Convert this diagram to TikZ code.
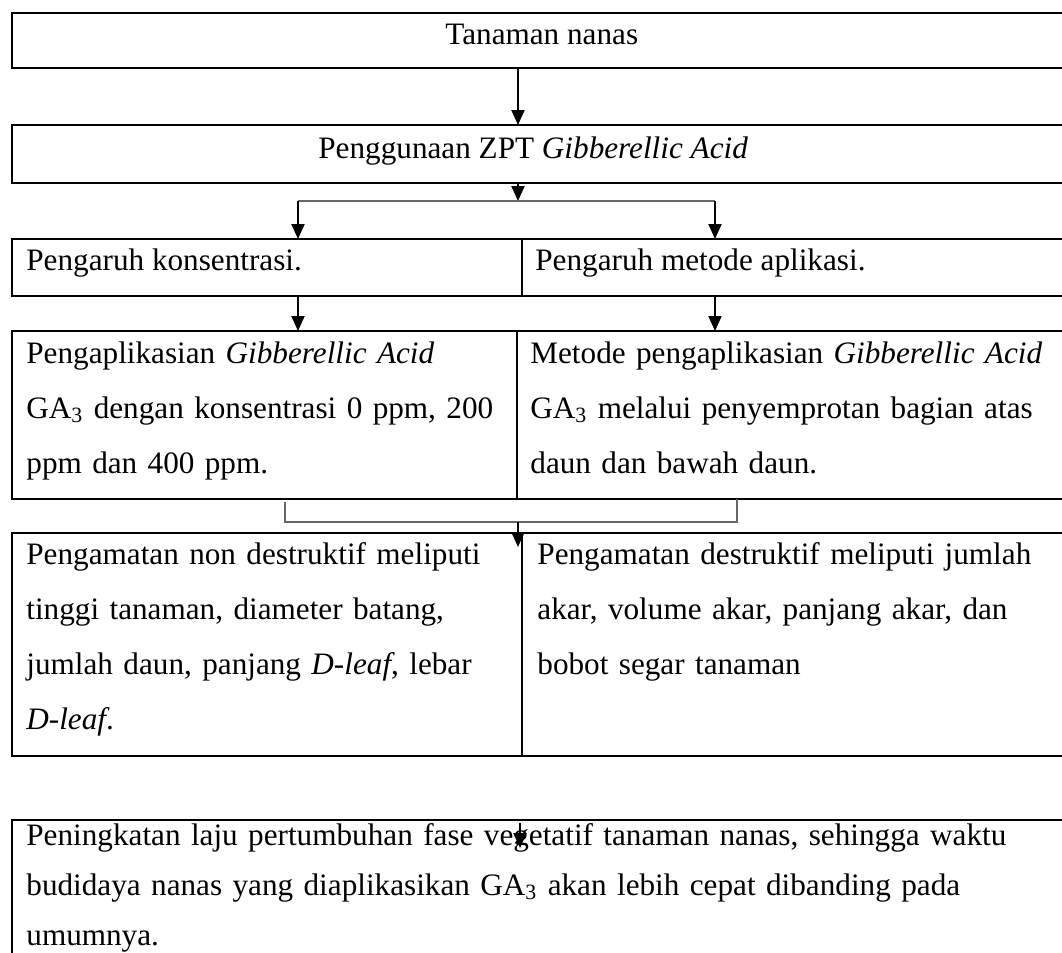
\documentclass[tikz,border=0pt]{standalone}
\usepackage{fontspec}
\setmainfont{Liberation Serif}
\usetikzlibrary{arrows.meta}

\tikzset{
    kotak/.style={draw, line width=1pt, anchor=north west, minimum width=529pt, inner sep=0pt, outer sep=0pt},
    isi/.style={anchor=base west, inner sep=0pt, align=left, font=\fontsize{15.6pt}{27.5pt}\selectfont},
    panah/.style={-{Triangle[width=6.5pt,length=7.5pt]}, line width=1pt},
    sekat/.style={line width=0.6pt},
    siku/.style={line width=0.6pt, black!60},
}

\begin{document}
\begin{tikzpicture}[x=0.5pt, y=-0.5pt]
        \useasboundingbox (0,0) rectangle (1062,953);
        \clip (0,0) rectangle (1062,953);

        \coordinate (tengah) at (518,0);
        \coordinate (kiri) at (298,0);
        \coordinate (kanan) at (715,0);

        % kotak
        \node[kotak, minimum height=27.5pt] (tanaman) at (12,13) {};
        \node[kotak, minimum height=29pt] (zpt) at (12,125) {};
        \node[kotak, minimum height=28.5pt] (pengaruh) at (12,239) {};
        \node[kotak, minimum height=84pt] (aplikasi) at (12,331) {};
        \node[kotak, minimum height=111.5pt] (amatan) at (12,533) {};
        \node[kotak, minimum height=70pt] (hasil) at (12,820) {};

        % sekat kolom
        \draw[sekat] (pengaruh.north -| 522,0) -- (pengaruh.south -| 522,0);
        \draw[sekat] (aplikasi.north -| 517,0) -- (aplikasi.south -| 517,0);
        \draw[sekat] (amatan.north -| 522,0) -- (amatan.south -| 522,0);

        % teks
        \node[isi] (tTanaman) at (445,44) {Tanaman nanas};
        \node[isi] (tZpt) at (318,158) {Penggunaan ZPT \textit{Gibberellic Acid}};
        \node[isi] (tKonsentrasi) at (26,270) {Pengaruh konsentrasi.};
        \node[isi] (tMetode) at (535,270) {Pengaruh metode aplikasi.};
        \node[isi, text width=250pt] (tAplikasiKiri) at (26,363)
            {Pengaplikasian \textit{Gibberellic Acid}\\
             GA\textsubscript{3} dengan konsentrasi 0 ppm, 200\\
             ppm dan 400 ppm.};
        \node[isi, text width=285pt] (tAplikasiKanan) at (530,363)
            {Metode pengaplikasian \textit{Gibberellic Acid}\\
             GA\textsubscript{3} melalui penyemprotan bagian atas\\
             daun dan bawah daun.};
        \node[isi, text width=250pt] (tNonDestruktif) at (26,564)
            {Pengamatan non destruktif meliputi\\
             tinggi tanaman, diameter batang,\\
             jumlah daun, panjang \textit{D-leaf}, lebar\\
             \textit{D-leaf}.};
        \node[isi, text width=285pt] (tDestruktif) at (537,564)
            {Pengamatan destruktif meliputi jumlah\\
             akar, volume akar, panjang akar, dan\\
             bobot segar tanaman};
        \node[isi, text width=540pt, font=\fontsize{15.6pt}{25pt}\selectfont] (tHasil) at (26,845)
            {Peningkatan laju pertumbuhan fase vegetatif tanaman nanas, sehingga waktu\\
             budidaya nanas yang diaplikasikan GA\textsubscript{3} akan lebih cepat dibanding pada\\
             umumnya.};

        % tanaman -> zpt
        \draw[panah] (tanaman.south -| tengah) -- (zpt.north -| tengah);

        % zpt -> pengaruh (cabang)
        \coordinate (cabang) at (518,201);
        \draw[panah] (zpt.south -| tengah) -- (cabang);
        \draw[siku] (kiri |- cabang) -- (kanan |- cabang);
        \draw[panah] (kiri |- cabang) -- (pengaruh.north -| kiri);
        \draw[panah] (kanan |- cabang) -- (pengaruh.north -| kanan);

        % pengaruh -> aplikasi
        \draw[panah] (pengaruh.south -| kiri) -- (aplikasi.north -| kiri);
        \draw[panah] (pengaruh.south -| kanan) -- (aplikasi.north -| kanan);

        % aplikasi -> amatan
        \coordinate (kiriB) at (285,0);
        \coordinate (kananB) at (737,0);
        \coordinate (gabung) at (518,522);
        \coordinate (ujung) at (518,547);
        \draw[siku] ([yshift=-1.5pt]aplikasi.south -| kiriB) -- (kiriB |- gabung)
            -- (kananB |- gabung) -- (aplikasi.south -| kananB);
        \draw[panah] (gabung) -- (ujung);

        % panah di dalam kotak hasil
        \coordinate (hasilA) at (520,823);
        \coordinate (hasilB) at (520,848);
        \draw[panah] (hasilA) -- (hasilB);
    \end{tikzpicture}
\end{document}
